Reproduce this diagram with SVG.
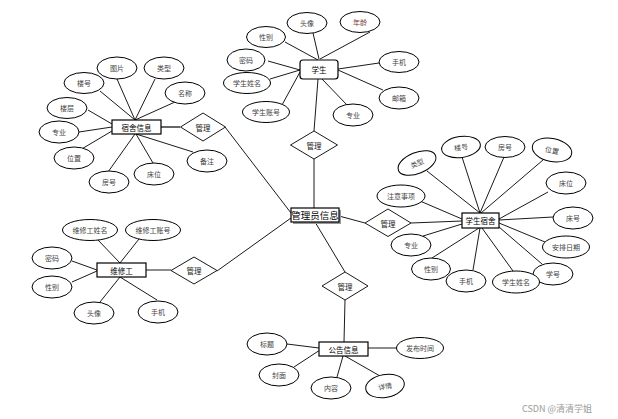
<svg xmlns="http://www.w3.org/2000/svg" width="618" height="419" viewBox="0 0 618 419">
<style>
.bg{fill:#fff}
.a{fill:#fff;stroke:#000;stroke-width:1}
.e{fill:#fff;stroke:#000;stroke-width:1.2}
.d{fill:#fff;stroke:#000;stroke-width:0.9}
.c line{stroke:#000;stroke-width:0.9}
text{font-family:"Noto Sans CJK SC","Noto Sans",sans-serif;text-anchor:middle;dominant-baseline:central}
.t{font-size:7px;fill:#444}
.et{font-size:7.5px;fill:#000}
.dt{font-size:7.5px;fill:#222}
.wm{font-size:9px;fill:#9a9a9a;font-family:"Noto Sans CJK SC","Liberation Sans",sans-serif;text-anchor:start}
</style>
<rect class="bg" x="0" y="0" width="618" height="419"/>
<g class="c" id="connectors">
<!-- 学生 -->
<line x1="313" y1="33" x2="319" y2="59"/>
<line x1="370" y1="32" x2="320" y2="59"/>
<line x1="285" y1="42" x2="318" y2="60"/>
<line x1="268" y1="61" x2="300" y2="70"/>
<line x1="270" y1="79" x2="300" y2="70"/>
<line x1="282" y1="105" x2="300" y2="72"/>
<line x1="379" y1="63" x2="338" y2="69"/>
<line x1="383" y1="90" x2="338" y2="70"/>
<line x1="348" y1="106" x2="322" y2="79"/>
<line x1="318" y1="79" x2="314" y2="131"/>
<line x1="314" y1="159" x2="314" y2="208"/>
<!-- 宿舍信息 -->
<line x1="117" y1="79" x2="135" y2="120"/>
<line x1="155" y1="79" x2="135" y2="120"/>
<line x1="100" y1="91" x2="135" y2="120"/>
<line x1="175" y1="102" x2="135" y2="120"/>
<line x1="88" y1="110" x2="112" y2="124"/>
<line x1="79" y1="132" x2="112" y2="127"/>
<line x1="80" y1="150" x2="112" y2="131"/>
<line x1="108" y1="172" x2="135" y2="134"/>
<line x1="153" y1="163" x2="136" y2="134"/>
<line x1="193" y1="152" x2="136" y2="134"/>
<line x1="161" y1="127" x2="180" y2="127" style="stroke:#666;stroke-width:2"/>
<line x1="225" y1="127" x2="291" y2="213"/>
<!-- 维修工 -->
<line x1="97" y1="239" x2="120" y2="263"/>
<line x1="139" y1="239" x2="120" y2="263"/>
<line x1="72" y1="261" x2="97" y2="270"/>
<line x1="72" y1="282" x2="97" y2="271"/>
<line x1="100" y1="302" x2="120" y2="277"/>
<line x1="157" y1="300" x2="120" y2="277"/>
<line x1="146" y1="270" x2="171" y2="270"/>
<line x1="217" y1="271" x2="291" y2="218"/>
<!-- 学生宿舍 -->
<line x1="339" y1="216" x2="365" y2="223"/>
<line x1="411" y1="223" x2="462" y2="221"/>
<line x1="427" y1="171" x2="480" y2="213"/>
<line x1="462" y1="157" x2="480" y2="213"/>
<line x1="504" y1="157" x2="480" y2="213"/>
<line x1="543" y1="160" x2="481" y2="213"/>
<line x1="548" y1="192" x2="499" y2="219"/>
<line x1="553" y1="217" x2="499" y2="220"/>
<line x1="545" y1="242" x2="499" y2="223"/>
<line x1="542" y1="264" x2="499" y2="227"/>
<line x1="513" y1="271" x2="482" y2="228"/>
<line x1="473" y1="270" x2="480" y2="228"/>
<line x1="432" y1="258" x2="479" y2="228"/>
<line x1="423" y1="236" x2="462" y2="224"/>
<line x1="420" y1="201" x2="462" y2="219"/>
<!-- 公告信息 -->
<line x1="315" y1="222" x2="345" y2="272"/>
<line x1="345" y1="300" x2="344" y2="342"/>
<line x1="287" y1="344" x2="319" y2="348"/>
<line x1="294" y1="367" x2="320" y2="350"/>
<line x1="337" y1="377" x2="343" y2="356"/>
<line x1="380" y1="376" x2="345" y2="356"/>
<line x1="368" y1="348" x2="397" y2="348"/>
</g>

<g id="admin">
<rect x="293" y="210" width="48" height="14" fill="#999"/>
<rect class="e" x="291" y="208" width="48" height="14"/>
<text x="315" y="215" style="font-size:9.5px;fill:#000">管理员信息</text>
</g>

<g id="student">
<rect class="e" x="300" y="60" width="38" height="19" rx="3"/>
<text class="et" x="319" y="69.5">学生</text>
</g>
<g id="student-attrs">
<ellipse class="a" cx="307" cy="23" rx="20" ry="10.5"/><text class="t" x="307" y="23">头像</text>
<ellipse class="a" cx="360" cy="22" rx="20" ry="10.5"/><text class="t" x="360" y="22" style="fill:#7a3a3a">年龄</text>
<ellipse class="a" cx="266" cy="37" rx="19.5" ry="10.5"/><text class="t" x="266" y="37">性别</text>
<ellipse class="a" cx="246" cy="60" rx="19" ry="11"/><text class="t" x="246" y="60">密码</text>
<ellipse class="a" cx="247" cy="83" rx="23.5" ry="10.5"/><text class="t" x="247" y="83">学生姓名</text>
<ellipse class="a" cx="266" cy="112" rx="23.5" ry="10.5"/><text class="t" x="266" y="112">学生账号</text>
<ellipse class="a" cx="399" cy="62" rx="20" ry="10.5"/><text class="t" x="399" y="62">手机</text>
<ellipse class="a" cx="399" cy="98" rx="20" ry="11"/><text class="t" x="399" y="98">邮箱</text>
<ellipse class="a" cx="353" cy="115" rx="20" ry="11"/><text class="t" x="353" y="115">专业</text>
</g>
<g id="rel-student">
<polygon class="d" points="314,131 337.5,145 314,159 290.5,145"/>
<text class="dt" x="314" y="145">管理</text>
</g>

<g id="dorm-info">
<rect class="e" x="112" y="120" width="49" height="14"/>
<text class="et" x="136.5" y="127">宿舍信息</text>
</g>
<g id="dorm-info-attrs">
<ellipse class="a" cx="117" cy="68" rx="20" ry="11"/><text class="t" x="117" y="68">图片</text>
<ellipse class="a" cx="164" cy="68" rx="20" ry="11"/><text class="t" x="164" y="68">类型</text>
<ellipse class="a" cx="84" cy="83" rx="20" ry="10.5"/><text class="t" x="84" y="83">楼号</text>
<ellipse class="a" cx="185" cy="93" rx="20" ry="11"/><text class="t" x="185" y="93">名称</text>
<ellipse class="a" cx="67" cy="108" rx="20" ry="10.5"/><text class="t" x="67" y="108">楼层</text>
<ellipse class="a" cx="59" cy="132" rx="20" ry="11"/><text class="t" x="59" y="132">专业</text>
<ellipse class="a" cx="74" cy="158" rx="20" ry="11"/><text class="t" x="74" y="158">位置</text>
<ellipse class="a" cx="109" cy="182" rx="20" ry="11"/><text class="t" x="109" y="182">房号</text>
<ellipse class="a" cx="154" cy="174" rx="20" ry="11"/><text class="t" x="154" y="174">床位</text>
<ellipse class="a" cx="207" cy="161" rx="20" ry="11"/><text class="t" x="207" y="161">备注</text>
</g>
<g id="rel-dorm-info">
<polygon class="d" points="203,113 225.5,127 203,141 180.5,127"/>
<text class="dt" x="203" y="127">管理</text>
</g>

<g id="dorm-assign">
<rect class="e" x="462" y="213" width="37" height="15"/>
<text class="et" x="480.5" y="220.5">学生宿舍</text>
</g>
<g id="dorm-assign-attrs">
<g transform="rotate(-22 417 163)"><ellipse class="a" cx="417" cy="163" rx="20" ry="10.5"/><text class="t" x="417" y="163">类型</text></g>
<g transform="rotate(-8 461 147)"><ellipse class="a" cx="461" cy="147" rx="19.5" ry="10.5"/><text class="t" x="461" y="147">楼号</text></g>
<ellipse class="a" cx="505" cy="147" rx="20" ry="10.5"/><text class="t" x="505" y="147">房号</text>
<g transform="rotate(12 552 150)"><ellipse class="a" cx="552" cy="150" rx="20" ry="11.5"/><text class="t" x="552" y="150">位置</text></g>
<ellipse class="a" cx="566" cy="183" rx="20" ry="11"/><text class="t" x="566" y="183">床位</text>
<ellipse class="a" cx="573" cy="218" rx="20" ry="11"/><text class="t" x="573" y="218">床号</text>
<ellipse class="a" cx="566" cy="247" rx="23.5" ry="11"/><text class="t" x="566" y="247">安排日期</text>
<ellipse class="a" cx="553" cy="274" rx="20" ry="11"/><text class="t" x="553" y="274">学号</text>
<ellipse class="a" cx="516" cy="282" rx="23.5" ry="11"/><text class="t" x="516" y="282">学生姓名</text>
<ellipse class="a" cx="466" cy="281" rx="20" ry="11"/><text class="t" x="466" y="281">手机</text>
<ellipse class="a" cx="431" cy="269" rx="19.5" ry="11"/><text class="t" x="431" y="269">性别</text>
<ellipse class="a" cx="411" cy="245" rx="20" ry="11"/><text class="t" x="411" y="245">专业</text>
<ellipse class="a" cx="401" cy="196" rx="24" ry="11"/><text class="t" x="401" y="196">注意事项</text>
</g>
<g id="rel-dorm-assign">
<polygon class="d" points="388,209 411,223 388,236.5 365,223"/>
<text class="dt" x="388" y="223">管理</text>
</g>

<g id="repairman">
<rect class="e" x="97" y="263" width="49" height="14"/>
<text class="et" x="121.5" y="270">维修工</text>
</g>
<g id="repairman-attrs">
<ellipse class="a" cx="90" cy="230" rx="27.5" ry="10.5"/><text class="t" x="90" y="230">维修工姓名</text>
<ellipse class="a" cx="153" cy="230" rx="27.5" ry="10.5"/><text class="t" x="153" y="230">维修工账号</text>
<ellipse class="a" cx="52" cy="258" rx="20" ry="11"/><text class="t" x="52" y="258">密码</text>
<ellipse class="a" cx="52" cy="287" rx="20" ry="11"/><text class="t" x="52" y="287">性别</text>
<ellipse class="a" cx="94" cy="313" rx="20" ry="11"/><text class="t" x="94" y="313">头像</text>
<ellipse class="a" cx="158" cy="312" rx="20" ry="11"/><text class="t" x="158" y="312">手机</text>
</g>
<g id="rel-repairman">
<polygon class="d" points="194,257 217,270.5 194,284 171,270.5"/>
<text class="dt" x="194" y="270.5">管理</text>
</g>

<g id="notice">
<rect class="e" x="319" y="342" width="49" height="14"/>
<text class="et" x="343.5" y="349">公告信息</text>
</g>
<g id="notice-attrs">
<ellipse class="a" cx="267" cy="344" rx="20" ry="11"/><text class="t" x="267" y="344">标题</text>
<ellipse class="a" cx="279" cy="375" rx="20" ry="11"/><text class="t" x="279" y="375">封面</text>
<ellipse class="a" cx="331" cy="388" rx="20" ry="11"/><text class="t" x="331" y="388">内容</text>
<g transform="rotate(-10 385 386)"><ellipse class="a" cx="385" cy="386" rx="19.5" ry="11.5"/><text class="t" x="385" y="386">详情</text></g>
<ellipse class="a" cx="420" cy="348" rx="23.5" ry="10.5"/><text class="t" x="420" y="348">发布时间</text>
</g>
<g id="rel-notice">
<polygon class="d" points="345,272 368,286 345,300 322,286"/>
<text class="dt" x="345" y="286">管理</text>
</g>

<text class="wm" x="522" y="408">CSDN @清清学姐</text>
</svg>
